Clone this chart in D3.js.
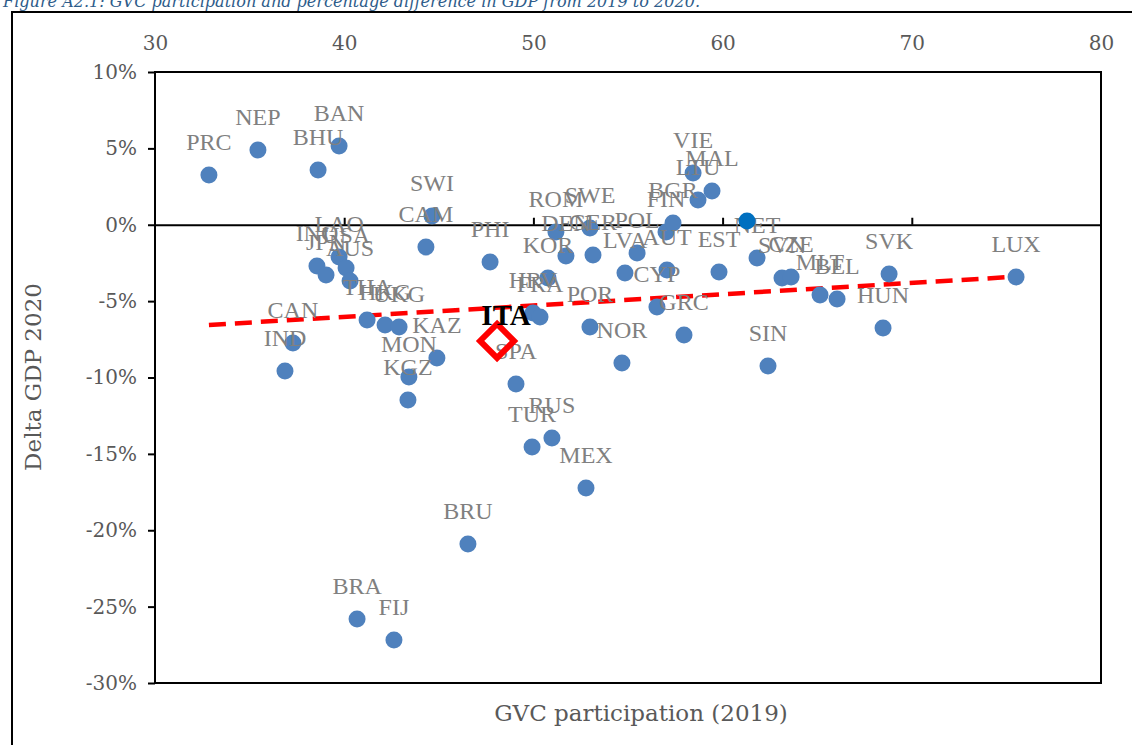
<!DOCTYPE html>
<html>
<head>
<meta charset="utf-8">
<script src="https://cdn.jsdelivr.net/npm/d3@7"></script>
<style>
  body { margin: 0; background: #fff; }
  svg { display: block; }
</style>
</head>
<body>
<svg id="chart" width="1132" height="745"></svg>
<script>
// economies, GVC participation 2019 and % change of GDP 2019-2020
const codes = ["PRC","NEP","BHU","BAN","SWI","CAM","LAO","INO","JPN","USA","AUS","THA","HKG","UKG",
  "CAN","IND","KAZ","MON","KGZ","PHI","SPA","RUS","TUR","MEX","BRU","BRA","FIJ","ROM","SWE","DEN",
  "GER","POL","LVA","KOR","AUT","CYP","GRC","FIN","BGR","VIE","LTU","MAL","NET","EST","SVN","CZE",
  "MLT","BEL","SVK","LUX","HUN","SIN","HRV","FRA","POR","NOR"];
const gvc = [32.85,35.44,38.62,39.73,44.64,44.32,39.73,38.56,39.04,40.10,40.31,41.21,42.16,42.90,
  37.29,36.87,44.90,43.42,43.37,47.71,49.08,50.98,49.93,52.78,46.54,40.68,42.63,51.19,52.99,51.72,
  53.15,55.48,54.84,50.77,57.06,56.53,57.96,57.01,57.38,58.44,58.70,59.44,61.82,59.81,63.14,63.62,
  65.15,66.05,68.80,75.51,68.48,62.40,49.98,50.35,52.99,54.68];
const dgdp = [3.26,4.89,3.58,5.16,0.57,-1.46,-2.11,-2.70,-3.29,-2.83,-3.68,-6.24,-6.56,-6.69,
  -7.74,-9.57,-8.72,-9.97,-11.47,-2.44,-10.43,-13.96,-14.55,-17.23,-20.90,-25.81,-27.18,-0.47,-0.21,-2.05,
  -1.98,-1.85,-3.16,-3.49,-2.96,-5.38,-7.22,-0.47,0.11,3.39,1.62,2.21,-2.18,-3.09,-3.49,-3.42,
  -4.60,-4.86,-3.22,-3.42,-6.76,-9.25,-5.78,-6.04,-6.69,-9.05];

// highlighted economy and the extra dark marker
const itaPoint = [48.08, -7.61];
const darkPoint = [61.29, 0.25];

// linear trend
const trendX = [32.85, 75.5];
const trendY = [-6.56, -3.40];

const xTicks = [30, 40, 50, 60, 70, 80];
const yTicks = [10, 5, 0, -5, -10, -15, -20, -25, -30];

const points = codes.map((c, i) => ({code: c, x: gvc[i], y: dgdp[i]}));

const svg = d3.select("#chart");
const plot = {left: 155, right: 1101, top: 72, bottom: 683};

const x = d3.scaleLinear().domain([30, 80]).range([plot.left, plot.right]);
const y = d3.scaleLinear().domain([-30, 10]).range([plot.bottom, plot.top]);

const tickFont = "'DejaVu Serif', Georgia, serif";
const labelFont = "'Liberation Serif', 'Times New Roman', serif";

// caption, cut at the top of the page
svg.append("text")
    .attr("x", 3).attr("y", 7)
    .attr("textLength", 697).attr("lengthAdjust", "spacingAndGlyphs")
    .style("font", `italic 17px ${tickFont}`)
    .attr("fill", "#2E5C8A")
    .text("Figure A2.1: GVC participation and percentage difference in GDP from 2019 to 2020.");

// outer frame (top and left visible)
svg.append("path")
    .attr("d", "M12,745 V12 H1132")
    .attr("fill", "none").attr("stroke", "#000").attr("stroke-width", 2);

// plot area frame
svg.append("rect")
    .attr("x", plot.left).attr("y", plot.top)
    .attr("width", plot.right - plot.left).attr("height", plot.bottom - plot.top)
    .attr("fill", "none").attr("stroke", "#000").attr("stroke-width", 2);

// y axis
const yAxis = svg.append("g")
    .attr("transform", `translate(${plot.left},0)`)
    .call(d3.axisLeft(y).tickValues(yTicks).tickSize(7).tickSizeOuter(0).tickPadding(11)
        .tickFormat(d => d + "%"));
yAxis.select(".domain").remove();
yAxis.selectAll(".tick line").attr("stroke", "#000").attr("stroke-width", 2);
yAxis.selectAll(".tick text").attr("fill", "#595959").style("font", `20px ${tickFont}`);

// x labels on top
const xAxisTop = svg.append("g")
    .attr("transform", `translate(0,${plot.top})`)
    .call(d3.axisTop(x).tickValues(xTicks).tickSize(0).tickPadding(22).tickFormat(d3.format("d")));
xAxisTop.select(".domain").remove();
xAxisTop.selectAll(".tick text").attr("fill", "#595959").style("font", `20px ${tickFont}`);

// zero line with ticks
const xAxisZero = svg.append("g")
    .attr("transform", `translate(0,${y(0)})`)
    .call(d3.axisTop(x).tickValues(xTicks.slice(1, -1)).tickSize(7).tickSizeOuter(0).tickFormat(""));
xAxisZero.select(".domain").attr("stroke", "#000").attr("stroke-width", 1.8);
xAxisZero.selectAll(".tick line").attr("stroke", "#000").attr("stroke-width", 2);

// axis titles
svg.append("text")
    .attr("x", (plot.left + plot.right) / 2 + 13).attr("y", 721)
    .attr("text-anchor", "middle")
    .attr("fill", "#595959")
    .style("font", `23px ${tickFont}`)
    .text("GVC participation (2019)");

svg.append("text")
    .attr("transform", "translate(41,377) rotate(-90)")
    .attr("text-anchor", "middle")
    .attr("fill", "#595959")
    .style("font", `23px ${tickFont}`)
    .text("Delta GDP 2020");

// trend line
svg.append("line")
    .attr("x1", x(trendX[0])).attr("y1", y(trendY[0]))
    .attr("x2", x(trendX[1])).attr("y2", y(trendY[1]))
    .attr("stroke", "#FF0000").attr("stroke-width", 4.5)
    .attr("stroke-dasharray", "17,9");

// markers
svg.append("g").selectAll("circle")
    .data(points)
    .join("circle")
    .attr("cx", d => x(d.x))
    .attr("cy", d => y(d.y))
    .attr("r", 8.5)
    .attr("fill", "#4F81BD");

// data labels
svg.append("g").selectAll("text")
    .data(points)
    .join("text")
    .attr("x", d => x(d.x))
    .attr("y", d => y(d.y) - 25)
    .attr("text-anchor", "middle")
    .attr("fill", "#808080")
    .style("font", `24px ${labelFont}`)
    .text(d => d.code);

svg.append("circle")
    .attr("cx", x(darkPoint[0])).attr("cy", y(darkPoint[1]))
    .attr("r", 8.5).attr("fill", "#0070C0");

// Italy
const ix = x(itaPoint[0]), iy = y(itaPoint[1]);
svg.append("path")
    .attr("d", `M${ix},${iy - 17} L${ix + 17},${iy} L${ix},${iy + 17} L${ix - 17},${iy} Z`)
    .attr("fill", "none").attr("stroke", "#FF0000").attr("stroke-width", 6);

svg.append("text")
    .attr("x", ix + 9).attr("y", iy - 16)
    .attr("text-anchor", "middle")
    .attr("fill", "#000")
    .style("font", `bold 29px ${labelFont}`)
    .text("ITA");
</script>
</body>
</html>
